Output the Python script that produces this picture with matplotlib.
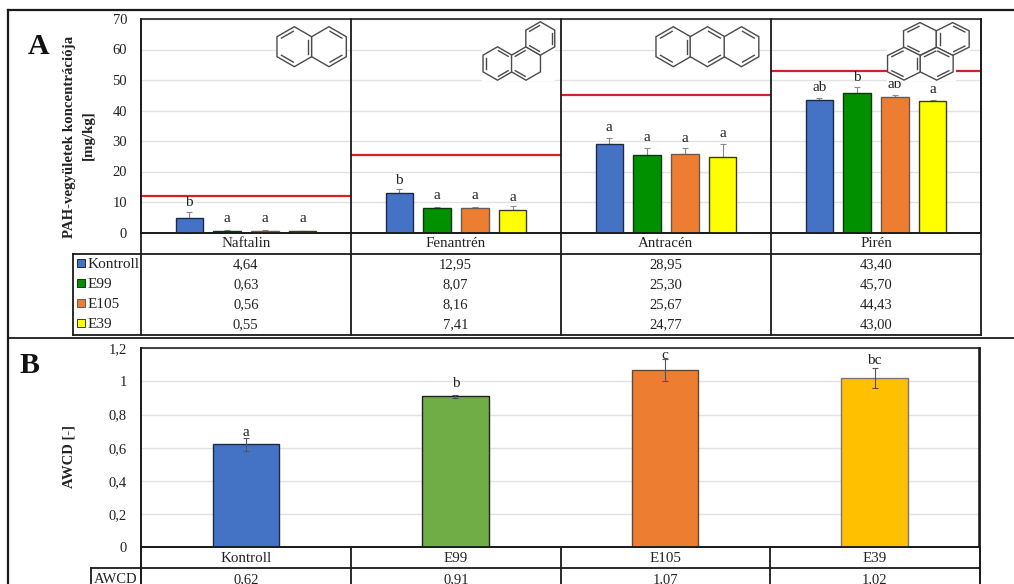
import numpy as np
import matplotlib
matplotlib.use("Agg")
import matplotlib.pyplot as plt
from matplotlib.patches import Rectangle, Polygon

plt.rcParams['font.family'] = ['Liberation Serif', 'DejaVu Serif']

W, H = 1014, 584

# ---------- data, panel A ----------
compounds = ["Naftalin", "Fenantrén", "Antracén", "Pirén"]
treatments = ["Kontroll", "E99", "E105", "E39"]
kontroll = [4.64, 12.95, 28.95, 43.40]
e99 = [0.63, 8.07, 25.30, 45.70]
e105 = [0.56, 8.16, 25.67, 44.43]
e39 = [0.55, 7.41, 24.77, 43.00]
kontroll_err = [2.0, 1.15, 2.1, 0.6]
e99_err = [0.2, 0.4, 2.4, 1.9]
e105_err = [0.1, 0.1, 1.9, 0.5]
e39_err = [0.1, 1.2, 4.3, 0.6]
limits = [12.0, 25.4, 45.2, 53.0]
letters_a = [["b", "b", "a", "ab"], ["a", "a", "a", "b"], ["a", "a", "a", "ab"], ["a", "a", "a", "a"]]
letter_y_a = [[9.8, 17.2, 34.5, 47.5], [4.6, 12.0, 31.0, 50.8], [4.6, 12.2, 30.7, 48.6], [4.6, 11.5, 32.5, 47.0]]
yticks_a = [0, 10, 20, 30, 40, 50, 60, 70]
colors_a = ["#4472C4", "#009000", "#ED7D31", "#FFFF00"]
edges_a = ["#1c2a4a", "#0c3a0c", "#6a5a50", "#3a3a20"]

# ---------- data, panel B ----------
groups_b = ["Kontroll", "E99", "E105", "E39"]
awcd = [0.62, 0.91, 1.07, 1.02]
awcd_err = [0.04, 0.01, 0.067, 0.06]
awcd_text = ["0,62", "0,91", "1,07", "1,02"]
letters_b = ["a", "b", "c", "bc"]
letter_y_b = [0.693, 0.985, 1.156, 1.128]
yticks_b = [0, 0.2, 0.4, 0.6, 0.8, 1.0, 1.2]
yticklabels_b = ["0", "0,2", "0,4", "0,6", "0,8", "1", "1,2"]
colors_b = ["#4472C4", "#70AD47", "#ED7D31", "#FFC000"]
edges_b = ["#1c2a4a", "#222222", "#5a4a40", "#777777"]

fig = plt.figure(figsize=(W / 100, H / 100), dpi=100, facecolor="white")


def px_axes(x0, y0, x1, y1, **kw):
    return fig.add_axes([x0 / W, 1 - y1 / H, (x1 - x0) / W, (y1 - y0) / H], **kw)


def style(ax, ticks):
    for s in ax.spines.values():
        s.set_linewidth(1.2)
        s.set_color("#222222")
    ax.set_xticks([])
    ax.set_yticks(ticks)
    ax.tick_params(axis="y", length=0, pad=10, labelsize=10.5, labelcolor="#222222")
    ax.grid(axis="y", color="#e2e2e2", lw=1)
    ax.set_axisbelow(True)
    ax.set_xlim(0, 4)


# ---------- panel A ----------
axA = px_axes(141, 19, 981, 232.5)
style(axA, yticks_a)
axA.set_ylim(0, 70)
offsets = [-0.27, -0.09, 0.09, 0.27]
seriesA = [kontroll, e99, e105, e39]
errsA = [kontroll_err, e99_err, e105_err, e39_err]
centers = np.arange(4) + 0.5
for j, (vals, errs) in enumerate(zip(seriesA, errsA)):
    xs = centers + offsets[j]
    axA.errorbar(xs, vals, yerr=[np.zeros(4), errs], fmt="none", ecolor="#8a8a8a",
                 elinewidth=0.8, capsize=2.2, capthick=0.8, zorder=2)
    axA.bar(xs, vals, width=0.13, color=colors_a[j], edgecolor=edges_a[j], lw=1, zorder=3)
    for x, t, y in zip(xs, letters_a[j], letter_y_a[j]):
        axA.text(x, y, t, ha="center", va="center", fontsize=11, color="#222222", zorder=5)
for c, lim in zip(centers, limits):
    axA.plot([c - 0.5, c + 0.5], [lim, lim], color="#D81F26", lw=1.6, zorder=4, solid_capstyle="butt")

# ---------- panel B ----------
axB = px_axes(141, 348.3, 979.5, 547.3)
style(axB, yticks_b)
axB.set_yticklabels(yticklabels_b)
axB.set_ylim(0, 1.2)
centersB = np.arange(4) + 0.5
axB.bar(centersB, awcd, width=0.317, color=colors_b, edgecolor=edges_b, lw=1, zorder=3)
axB.errorbar(centersB, awcd, yerr=awcd_err, fmt="none", ecolor="#555555",
             elinewidth=0.8, capsize=2.5, capthick=0.8, zorder=4)
for x, t, y in zip(centersB, letters_b, letter_y_b):
    axB.text(x, y, t, ha="center", va="center", fontsize=11, color="#222222", zorder=5)

# ---------- overlay in pixel space ----------
ov = fig.add_axes([0, 0, 1, 1], facecolor="none")
ov.set_xlim(0, W)
ov.set_ylim(H, 0)
ov.axis("off")


def line(x0, y0, x1, y1, lw=1.3, c="#1a1a1a"):
    ov.plot([x0, x1], [y0, y1], color=c, lw=lw, solid_capstyle="projecting", zorder=6, clip_on=True)


def hexring(cx, cy, rx, ry, bonds, c="#4a4a4a"):
    ang = np.deg2rad(90 + 60 * np.arange(6))
    vx = cx + rx * np.cos(ang)
    vy = cy - ry * np.sin(ang)
    ov.add_patch(Polygon(np.c_[vx, vy], closed=True, fc="white", ec=c, lw=1.0, zorder=4))
    for k in bonds:
        a = np.array([vx[k], vy[k]])
        b = np.array([vx[(k + 1) % 6], vy[(k + 1) % 6]])
        ctr = np.array([cx, cy])
        a2 = a + (ctr - a) * 0.2 + (b - a) * 0.06
        b2 = b + (ctr - b) * 0.2 + (a - b) * 0.06
        ov.plot([a2[0], b2[0]], [a2[1], b2[1]], color=c, lw=1.0, zorder=5)


# white image backgrounds of the structural formulas
for (x0, y0, x1, y1) in [(276, 24, 347, 68), (482, 22, 555, 81), (655, 24, 759, 68),
                         (887, 22, 970, 60), (887, 60, 956, 81)]:
    ov.add_patch(Rectangle((x0, y0), x1 - x0, y1 - y0, fc="white", ec="none", zorder=3))

# naphthalene
hexring(294.3, 46.7, 20, 20, [0, 2, 4])
hexring(329, 46.7, 20, 20, [5, 3])
# phenanthrene
hexring(497.5, 63.5, 16.7, 16.7, [1, 3, 5])
hexring(526, 63.5, 16.7, 16.7, [2, 0])
hexring(540.3, 38.5, 16.7, 16.7, [0, 2, 4])
# anthracene
hexring(673.3, 46.7, 20, 20, [0, 2, 4])
hexring(707.5, 46.7, 20, 20, [5, 3])
hexring(741.5, 46.7, 20, 20, [5, 3])
# pyrene
hexring(920, 39, 19, 16.4, [0, 2])
hexring(952.7, 39, 19, 16.4, [5, 3, 1])
hexring(904, 63.7, 19, 16.4, [0, 2, 4])
hexring(936.7, 63.7, 19, 16.4, [0, 3, 5])

# outer frame
line(8, 9.5, 1014, 9.5, 1.6)
line(8, 9.5, 8, 584, 1.6)
line(8, 338, 1014, 338, 1.3)

# table A
x_a = [141, 350.5, 560.8, 771, 981]
for x in x_a:
    line(x, 19, x, 334.5)
line(141, 232.5, 981, 232.5)
line(73, 253.5, 981, 253.5)
line(73, 334.5, 981, 334.5)
line(73, 253.5, 73, 334.5)
rows_a = [264.3, 284.3, 304.3, 324.3]
for i, name in enumerate(compounds):
    cx = (x_a[i] + x_a[i + 1]) / 2
    ov.text(cx, 243.6, name, ha="center", va="center", fontsize=10.8, color="#222222", zorder=7)
    for r, vals in zip(rows_a, seriesA):
        ov.text(cx, r, f"{vals[i]:.2f}".replace(".", ","), ha="center", va="center",
                fontsize=10.5, color="#222222", zorder=7)
for r, name, col, e in zip(rows_a, treatments, colors_a, edges_a):
    ov.add_patch(Rectangle((77, r - 5), 8, 8, fc=col, ec=e, lw=0.7, zorder=7))
    ov.text(87.5, r + 0.3, name, ha="left", va="center", fontsize=11, color="#222222", zorder=7)

# table B
x_b = [141, 351, 560.8, 770, 979.5]
for x in x_b:
    line(x, 547.3, x, 590)
line(141, 348.3, 141, 590)
line(979.5, 348.3, 979.5, 590)
line(141, 547.3, 979.5, 547.3)
line(91, 568.3, 979.5, 568.3)
line(91, 568.3, 91, 590)
ov.text(116, 579.3, "AWCD", ha="center", va="center", fontsize=10.5, color="#222222", zorder=7)
for i, name in enumerate(groups_b):
    cx = (x_b[i] + x_b[i + 1]) / 2
    ov.text(cx, 559, name, ha="center", va="center", fontsize=10.8, color="#222222", zorder=7)
    ov.text(cx, 579.3, awcd_text[i], ha="center", va="center", fontsize=10.5, color="#222222", zorder=7)

# panel letters and axis titles
ov.text(38.5, 47, "A", ha="center", va="center", fontsize=21.5, fontweight="bold", color="#111111", zorder=7)
ov.text(29.5, 365.3, "B", ha="center", va="center", fontsize=21.5, fontweight="bold", color="#111111", zorder=7)
ov.text(69, 137, "PAH-vegyületek koncentrációja", rotation=90, ha="center", va="center",
        fontsize=10.7, fontweight="bold", color="#222222", zorder=7)
ov.text(88, 135, "[mg/kg]", rotation=90, ha="center", va="center",
        fontsize=10.7, fontweight="bold", color="#222222", zorder=7)
ov.text(69, 456.7, "AWCD [-]", rotation=90, ha="center", va="center",
        fontsize=10.5, fontweight="bold", color="#222222", zorder=7)

fig.savefig("out.png", dpi=100)
